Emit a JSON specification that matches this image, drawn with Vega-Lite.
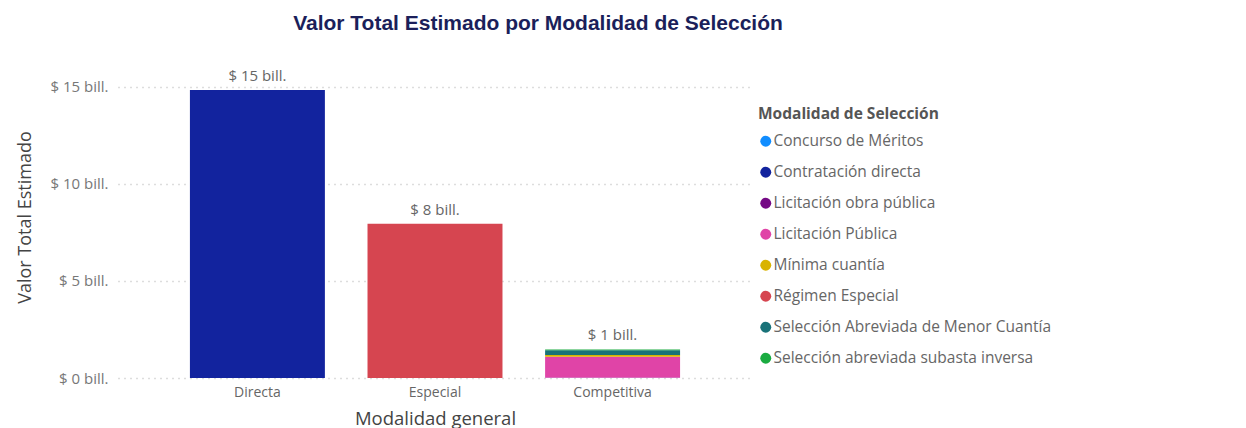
{
  "$schema": "https://vega.github.io/schema/vega-lite/v6.json",
  "width": 634,
  "height": 298,
  "autosize": {"type": "none"},
  "padding": {"left": 118, "top": 80, "right": 494, "bottom": 50},
  "background": "white",
  "config": {
    "view": {"stroke": null},
    "font": "Open Sans",
    "locale": {"number": {"decimal": ",", "thousands": ".", "grouping": [3], "currency": ["$ ", " bill."]}}
  },
  "title": {
    "text": "Valor Total Estimado por Modalidad de Selección",
    "font": "Liberation Sans",
    "fontSize": 21,
    "fontWeight": "bold",
    "color": "#1b1f5a",
    "anchor": "middle",
    "dx": 103,
    "frame": "group",
    "baseline": "middle",
    "offset": 24
  },
  "data": {
    "values": [
      {"modalidad_general": "Directa", "modalidad": "Contratación directa", "valor": 14.85},
      {"modalidad_general": "Especial", "modalidad": "Régimen Especial", "valor": 7.95},
      {"modalidad_general": "Competitiva", "modalidad": "Concurso de Méritos", "valor": 0.01},
      {"modalidad_general": "Competitiva", "modalidad": "Licitación obra pública", "valor": 0.005},
      {"modalidad_general": "Competitiva", "modalidad": "Licitación Pública", "valor": 1.08},
      {"modalidad_general": "Competitiva", "modalidad": "Mínima cuantía", "valor": 0.09},
      {"modalidad_general": "Competitiva", "modalidad": "Selección Abreviada de Menor Cuantía", "valor": 0.25},
      {"modalidad_general": "Competitiva", "modalidad": "Selección abreviada subasta inversa", "valor": 0.04}
    ]
  },
  "encoding": {
    "x": {
      "field": "modalidad_general",
      "type": "nominal",
      "sort": ["Directa", "Especial", "Competitiva"],
      "scale": {"paddingInner": 0.24, "paddingOuter": 0.405},
      "axis": {
        "title": "Modalidad general",
        "titleFont": "Open Sans",
        "titleFontSize": 18.5,
        "titleFontWeight": "normal",
        "titleColor": "#444444",
        "titlePadding": 10,
        "labelAngle": 0,
        "labelFontSize": 14,
        "labelColor": "#666666",
        "labelPadding": 7,
        "ticks": false,
        "domain": false,
        "grid": false
      }
    }
  },
  "layer": [
    {
      "mark": {"type": "bar"},
      "encoding": {
        "y": {
          "field": "valor",
          "type": "quantitative",
          "aggregate": "sum",
          "stack": "zero",
          "scale": {"domain": [0, 15.36], "nice": false},
          "axis": {
            "title": "Valor Total Estimado",
            "titleFont": "Open Sans",
            "titleFontSize": 18,
            "titleFontWeight": "normal",
            "titleColor": "#444444",
            "titleX": -93,
            "titleY": 137,
            "titleAngle": -90,
            "titleBaseline": "middle",
            "values": [0, 5, 10, 15],
            "format": "$.0f",
            "labelFontSize": 15,
            "labelColor": "#777777",
            "labelPadding": 10,
            "ticks": false,
            "domain": false,
            "grid": true,
            "gridColor": "#bbbbbb",
            "gridDash": [1, 5],
            "gridWidth": 1.3
          }
        },
        "color": {
          "field": "modalidad",
          "type": "nominal",
          "scale": {
            "domain": ["Concurso de Méritos", "Contratación directa", "Licitación obra pública", "Licitación Pública", "Mínima cuantía", "Régimen Especial", "Selección Abreviada de Menor Cuantía", "Selección abreviada subasta inversa"],
            "range": ["#118DFF", "#12239E", "#750985", "#E044A7", "#D9B300", "#D64550", "#197278", "#1AAB40"]
          },
          "legend": {
            "title": "Modalidad de Selección",
            "orient": "none",
            "legendX": 640,
            "legendY": 27,
            "titleFont": "Open Sans",
            "titleFontSize": 15.5,
            "titleFontWeight": "bold",
            "titleColor": "#555555",
            "titlePadding": 11,
            "titleLimit": 400,
            "labelFont": "Open Sans",
            "labelFontSize": 15.5,
            "labelColor": "#666666",
            "labelOffset": 0,
            "symbolType": "circle",
            "symbolSize": 120,
            "symbolStrokeWidth": 0,
            "rowPadding": 14,
            "labelLimit": 400
          }
        },
        "order": {"field": "modalidad", "sort": "ascending"}
      }
    },
    {
      "mark": {"type": "text", "baseline": "bottom", "dy": -6, "fontSize": 15, "color": "#666666"},
      "encoding": {
        "y": {"field": "valor", "type": "quantitative", "aggregate": "sum"},
        "text": {"field": "valor", "type": "quantitative", "aggregate": "sum", "format": "$.0f"}
      }
    }
  ]
}
